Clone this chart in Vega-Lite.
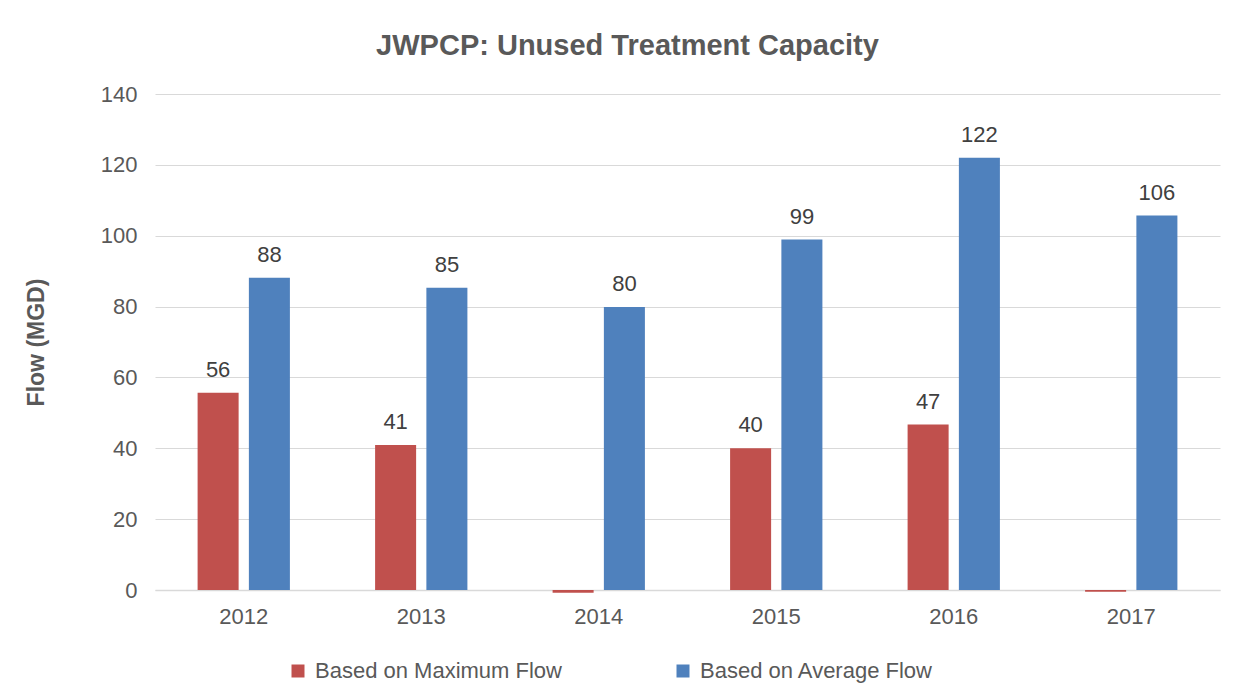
{
  "$schema": "https://vega.github.io/schema/vega-lite/v6.json",
  "autosize": "none",
  "padding": {"left": 155, "top": 94, "right": 29, "bottom": 110},
  "width": 1065,
  "height": 496,
  "background": "white",
  "config": {"view": {"stroke": null}},
  "title": {
    "text": "JWPCP: Unused Treatment Capacity",
    "font": "Liberation Sans",
    "fontSize": 29,
    "fontWeight": "bold",
    "color": "#595959",
    "anchor": "middle",
    "dx": -60,
    "offset": 22
  },
  "data": {
    "values": [
      {"year": "2012", "series": "Based on Maximum Flow", "value": 55.7},
      {"year": "2012", "series": "Based on Average Flow", "value": 88.1},
      {"year": "2013", "series": "Based on Maximum Flow", "value": 40.9},
      {"year": "2013", "series": "Based on Average Flow", "value": 85.3},
      {"year": "2014", "series": "Based on Maximum Flow", "value": -0.8},
      {"year": "2014", "series": "Based on Average Flow", "value": 79.9},
      {"year": "2015", "series": "Based on Maximum Flow", "value": 40.0},
      {"year": "2015", "series": "Based on Average Flow", "value": 98.9},
      {"year": "2016", "series": "Based on Maximum Flow", "value": 46.7},
      {"year": "2016", "series": "Based on Average Flow", "value": 122.0},
      {"year": "2017", "series": "Based on Maximum Flow", "value": -0.5},
      {"year": "2017", "series": "Based on Average Flow", "value": 105.7}
    ]
  },
  "encoding": {
    "x": {
      "field": "year",
      "type": "nominal",
      "scale": {"paddingInner": 0.48, "paddingOuter": 0.24},
      "axis": {
        "title": null,
        "labelAngle": 0,
        "labelFont": "Liberation Sans",
        "labelFontSize": 22,
        "labelColor": "#595959",
        "labelPadding": 16,
        "ticks": false,
        "domainColor": "#d9d9d9",
        "domainWidth": 1.5
      }
    },
    "xOffset": {
      "field": "series",
      "type": "nominal",
      "sort": ["Based on Maximum Flow", "Based on Average Flow"],
      "scale": {"paddingInner": 0.2}
    },
    "y": {
      "field": "value",
      "type": "quantitative",
      "scale": {"domain": [0, 140], "nice": false},
      "axis": {
        "title": "Flow (MGD)",
        "titleFont": "Liberation Sans",
        "titleFontSize": 23,
        "titleFontWeight": "bold",
        "titleColor": "#595959",
        "titlePadding": 52,
        "labelFont": "Liberation Sans",
        "labelFontSize": 22,
        "labelColor": "#595959",
        "labelPadding": 18,
        "labelOverlap": false,
        "labelFlush": false,
        "values": [0, 20, 40, 60, 80, 100, 120, 140],
        "ticks": false,
        "domain": false,
        "gridColor": "#d9d9d9",
        "gridWidth": 1
      }
    }
  },
  "layer": [
    {
      "mark": {"type": "bar", "clip": false},
      "encoding": {
        "color": {
          "field": "series",
          "type": "nominal",
          "sort": ["Based on Maximum Flow", "Based on Average Flow"],
          "scale": {"domain": ["Based on Maximum Flow", "Based on Average Flow"], "range": ["#C0504D", "#4F81BD"]},
          "legend": {
            "title": null,
            "orient": "none",
            "legendX": 132,
            "legendY": 566,
            "direction": "horizontal",
            "symbolType": "square",
            "symbolSize": 169,
            "symbolStrokeWidth": 0,
            "labelFont": "Liberation Sans",
            "labelFontSize": 22,
            "labelColor": "#595959",
            "labelOffset": 6,
            "labelLimit": 400,
            "columnPadding": 110
          }
        }
      }
    },
    {
      "transform": [{"filter": "datum.value > 0"}],
      "mark": {"type": "text", "dy": -23, "font": "Liberation Sans", "fontSize": 22, "color": "#404040"},
      "encoding": {
        "text": {"field": "value", "type": "quantitative", "format": ".0f"}
      }
    }
  ]
}
